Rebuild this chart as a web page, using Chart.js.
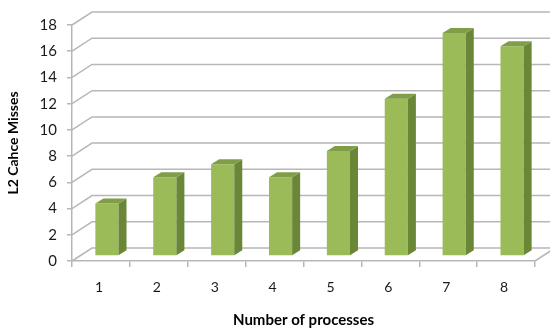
<!DOCTYPE html>
<html>
<head>
<meta charset="utf-8">
<script src="https://cdn.jsdelivr.net/npm/chart.js@4.4.1/dist/chart.umd.min.js"></script>
<style>
  html, body { margin: 0; padding: 0; background: #fff; }
  #wrap { width: 550px; height: 330px; }
</style>
</head>
<body>
<div id="wrap"><canvas id="missChart" width="550" height="330"></canvas></div>
<script>
// DATA
const processes = ["1", "2", "3", "4", "5", "6", "7", "8"];
const l2Misses = [4, 6, 7, 6, 8, 12, 17, 16];
const yTicks = [0, 2, 4, 6, 8, 10, 12, 14, 16, 18];

// LOOK
const FONT = "Lato, 'Liberation Sans', sans-serif";
const GRID = "#b7b7b7";
const FACE = "#9bbb59";
const TOP = "#7f9e47";
const SIDE = "#6a8737";
const WALL = { dx: 20, dy: -13 };   // back wall offset from front plane
const BAR = { dx: 6, dy: -5 };      // bar placement inside the depth
const DEPTH = { dx: 8, dy: -5 };    // bar thickness

// 3D grid + floor drawn behind the bars
const wallPlugin = {
    id: "wall",
    beforeDatasetsDraw(chart) {
        const { ctx, chartArea, scales } = chart;
        const y = scales.y;
        ctx.save();
        ctx.strokeStyle = GRID;
        ctx.lineWidth = 1.5;
        yTicks.forEach(v => {
            const py = y.getPixelForValue(v);
            ctx.beginPath();
            ctx.moveTo(chartArea.left, py);
            ctx.lineTo(chartArea.left + WALL.dx, py + WALL.dy);
            ctx.lineTo(chart.width, py + WALL.dy);
            ctx.stroke();
        });
        // right edge of the floor
        const base = y.getPixelForValue(0);
        ctx.beginPath();
        ctx.moveTo(chartArea.right, base);
        ctx.lineTo(chartArea.right + WALL.dx, base + WALL.dy);
        ctx.stroke();
        ctx.restore();

        // bars sit back from the front plane
        ctx.save();
        ctx.translate(BAR.dx, BAR.dy);
    },
    afterDatasetsDraw(chart) {
        const { ctx } = chart;
        ctx.restore();

        // top and side faces
        const meta = chart.getDatasetMeta(0);
        ctx.save();
        ctx.translate(BAR.dx, BAR.dy);
        meta.data.forEach(bar => {
            const { x, y, base, width } = bar.getProps(["x", "y", "base", "width"], true);
            const l = x - width / 2, r = x + width / 2;

            ctx.fillStyle = SIDE;
            ctx.beginPath();
            ctx.moveTo(r, y);
            ctx.lineTo(r + DEPTH.dx, y + DEPTH.dy);
            ctx.lineTo(r + DEPTH.dx, base + DEPTH.dy);
            ctx.lineTo(r, base);
            ctx.closePath();
            ctx.fill();

            ctx.fillStyle = TOP;
            ctx.beginPath();
            ctx.moveTo(l, y);
            ctx.lineTo(l + DEPTH.dx, y + DEPTH.dy);
            ctx.lineTo(r + DEPTH.dx, y + DEPTH.dy);
            ctx.lineTo(r, y);
            ctx.closePath();
            ctx.fill();
        });
        ctx.restore();
    }
};

const chart = new Chart(document.getElementById("missChart"), {
    type: "bar",
    data: {
        labels: processes,
        datasets: [{
            data: l2Misses,
            backgroundColor: FACE,
            borderWidth: 0,
            barPercentage: 0.4,
            categoryPercentage: 1
        }]
    },
    options: {
        responsive: false,
        animation: false,
        events: [],
        layout: { padding: { top: 25, right: 15, left: 0, bottom: 0 } },
        plugins: { legend: { display: false }, tooltip: { enabled: false } },
        scales: {
            x: {
                grid: { offset: true, drawOnChartArea: false, tickLength: 6, color: GRID, lineWidth: 1.5 },
                border: { color: GRID, width: 1.5 },
                ticks: { color: "#1a1a1a", padding: 12, labelOffset: -2, font: { family: FONT, size: 14 } },
                title: {
                    display: true,
                    text: "Number of processes",
                    color: "#000",
                    padding: { top: 0, bottom: 1 },
                    font: { family: FONT, size: 15, weight: "bold" }
                },
                afterFit: s => { s.height = 69; }
            },
            y: {
                min: 0,
                max: 18,
                afterBuildTicks: s => { s.ticks = yTicks.map(v => ({ value: v })); },
                grid: { drawOnChartArea: false, tickLength: 5, color: GRID, lineWidth: 1.5 },
                border: { color: GRID, width: 1.5 },
                ticks: { color: "#1a1a1a", padding: 10, font: { family: FONT, size: 15 } },
                title: {
                    display: true,
                    text: "L2 Cahce Misses",
                    color: "#000",
                    padding: { top: 5, bottom: 0 },
                    font: { family: FONT, size: 14, weight: "bold" }
                },
                afterFit: s => { s.width = 72; }
            }
        }
    },
    plugins: [wallPlugin]
});
</script>
</body>
</html>
